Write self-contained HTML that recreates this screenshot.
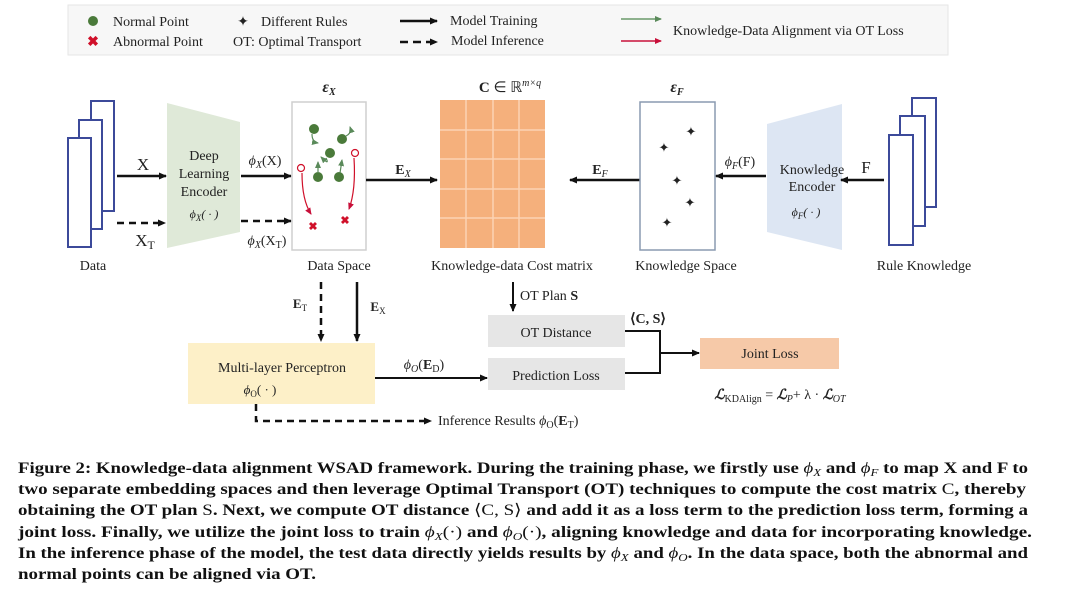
<!DOCTYPE html>
<html><head><meta charset="utf-8"><style>
html,body{margin:0;padding:0;background:#fff;}
svg{display:block;}
text{font-family:"Liberation Serif",serif;fill:#222;}
.cap{font-weight:bold;font-size:16px;fill:#111;}
</style></head><body>
<svg width="1080" height="598" viewBox="0 0 1080 598" xmlns="http://www.w3.org/2000/svg">
<defs>
<marker id="ab" markerWidth="8" markerHeight="8" refX="7" refY="4" orient="auto" markerUnits="userSpaceOnUse"><path d="M0,0.5 L8,4 L0,7.5 Z" fill="#111"/></marker>
<marker id="ag" markerWidth="7" markerHeight="7" refX="6" refY="3.5" orient="auto" markerUnits="userSpaceOnUse"><path d="M0,0.5 L7,3.5 L0,6.5 Z" fill="#5a8a5a"/></marker>
<marker id="ar" markerWidth="7" markerHeight="7" refX="6" refY="3.5" orient="auto" markerUnits="userSpaceOnUse"><path d="M0,0.5 L7,3.5 L0,6.5 Z" fill="#c8103a"/></marker>
</defs>
<!-- legend -->
<rect x="68" y="5" width="880" height="50" fill="#f7f7f7" stroke="#e6e6e6"/>
<circle cx="93" cy="21" r="5" fill="#4a7a3a"/>
<text x="113" y="26" font-size="14">Normal Point</text>
<text x="93" y="46" font-size="14" fill="#d0102a" text-anchor="middle" style="fill:#d0102a;font-weight:bold">✖</text>
<text x="113" y="46" font-size="14">Abnormal Point</text>
<text x="243" y="26" font-size="14" text-anchor="middle">✦</text>
<text x="261" y="26" font-size="14">Different Rules</text>
<text x="233" y="46" font-size="14">OT: Optimal Transport</text>
<line x1="400" y1="21" x2="437" y2="21" stroke="#111" stroke-width="2.5" marker-end="url(#ab)"/>
<text x="450" y="25" font-size="14">Model Training</text>
<line x1="400" y1="42" x2="437" y2="42" stroke="#111" stroke-width="2.5" stroke-dasharray="8,5" marker-end="url(#ab)"/>
<text x="451" y="45" font-size="14">Model Inference</text>
<line x1="621" y1="19" x2="661" y2="19" stroke="#6a9a6a" stroke-width="1.5" marker-end="url(#ag)"/>
<line x1="621" y1="41" x2="661" y2="41" stroke="#c8103a" stroke-width="1.5" marker-end="url(#ar)"/>
<text x="673" y="35" font-size="14">Knowledge-Data Alignment via OT Loss</text>

<!-- data stack -->
<g fill="#fff" stroke="#3c4a9a" stroke-width="2">
<rect x="91" y="101" width="23" height="110"/>
<rect x="79" y="120" width="23" height="109"/>
<rect x="68" y="138" width="23" height="109"/>
<rect x="912" y="98" width="24" height="109"/>
<rect x="900" y="116" width="25" height="110"/>
<rect x="889" y="135" width="24" height="110"/>
</g>
<text x="93" y="270" font-size="14" text-anchor="middle">Data</text>
<text x="924" y="270" font-size="14" text-anchor="middle">Rule Knowledge</text>

<!-- encoder green -->
<polygon points="167,103 240,122 240,232 167,248" fill="#dfe9d8"/>
<text x="204" y="160" font-size="14" text-anchor="middle">Deep</text>
<text x="204" y="178" font-size="14" text-anchor="middle">Learning</text>
<text x="204" y="196" font-size="14" text-anchor="middle">Encoder</text>
<text x="204" y="218" font-size="12" text-anchor="middle" font-style="italic">ϕ<tspan font-size="9" dy="3">X</tspan><tspan dy="-3">( · )</tspan></text>

<line x1="117" y1="176" x2="166" y2="176" stroke="#111" stroke-width="2.5" marker-end="url(#ab)"/>
<text x="143" y="170" font-size="17" text-anchor="middle">X</text>
<line x1="117" y1="223" x2="165" y2="223" stroke="#111" stroke-width="2.5" stroke-dasharray="7,5" marker-end="url(#ab)"/>
<text x="145" y="246" font-size="17" text-anchor="middle">X<tspan font-size="12" dy="3">T</tspan></text>

<line x1="241" y1="176" x2="291" y2="176" stroke="#111" stroke-width="2.5" marker-end="url(#ab)"/>
<text x="265" y="165" font-size="14" text-anchor="middle"><tspan font-style="italic">ϕ</tspan><tspan font-size="10" dy="3" font-style="italic">X</tspan><tspan dy="-3">(X)</tspan></text>
<line x1="241" y1="221" x2="291" y2="221" stroke="#111" stroke-width="2.5" stroke-dasharray="7,5" marker-end="url(#ab)"/>
<text x="267" y="245" font-size="14" text-anchor="middle"><tspan font-style="italic">ϕ</tspan><tspan font-size="10" dy="3" font-style="italic">X</tspan><tspan dy="-3">(X</tspan><tspan font-size="10" dy="3">T</tspan><tspan dy="-3">)</tspan></text>

<!-- data space -->
<rect x="292" y="102" width="74" height="148" fill="#fff" stroke="#cfcfcf" stroke-width="1.5"/>
<text x="329" y="92" font-size="16" font-weight="bold" font-style="italic" text-anchor="middle">ε<tspan font-size="10" dy="3">X</tspan></text>
<text x="339" y="270" font-size="14" text-anchor="middle">Data Space</text>
<g fill="#4a7a3a">
<circle cx="314" cy="129" r="5"/><circle cx="342" cy="139" r="5"/><circle cx="330" cy="153" r="5"/><circle cx="318" cy="177" r="5"/><circle cx="339" cy="177" r="5"/>
</g>
<g stroke="#5a8a5a" stroke-width="1.2" fill="none">
<path d="M312,134 Q312,142 318,143" marker-end="url(#ag)"/>
<path d="M346,136 Q352,133 350,127" marker-end="url(#ag)"/>
<path d="M318,173 L318,162" marker-end="url(#ag)"/>
<path d="M340,173 L342,160" marker-end="url(#ag)"/>
<path d="M326,158 Q330,166 321,157" marker-end="url(#ag)"/>
</g>
<g stroke="#d0102a" stroke-width="1.2" fill="none">
<circle cx="301" cy="168" r="3.5"/><circle cx="355" cy="153" r="3.5"/>
<path d="M302,173 Q302,200 311,214" marker-end="url(#ar)"/>
<path d="M354,158 Q356,190 349,209" marker-end="url(#ar)"/>
</g>
<text x="313" y="230" font-size="11" text-anchor="middle" style="fill:#d0102a;font-weight:bold">✖</text>
<text x="345" y="224" font-size="11" text-anchor="middle" style="fill:#d0102a;font-weight:bold">✖</text>

<line x1="366" y1="180" x2="437" y2="180" stroke="#111" stroke-width="2.5" marker-end="url(#ab)"/>
<text x="403" y="174" font-size="14" font-weight="bold" text-anchor="middle">E<tspan font-size="10" dy="3" font-style="italic" font-weight="normal">X</tspan></text>

<!-- cost matrix -->
<rect x="440" y="100" width="105" height="148" fill="#f5b07c"/>
<g stroke="#fbd3b3" stroke-width="1.5">
<line x1="466" y1="100" x2="466" y2="248"/><line x1="493" y1="100" x2="493" y2="248"/><line x1="519" y1="100" x2="519" y2="248"/>
<line x1="440" y1="130" x2="545" y2="130"/><line x1="440" y1="159" x2="545" y2="159"/><line x1="440" y1="189" x2="545" y2="189"/><line x1="440" y1="218" x2="545" y2="218"/>
</g>
<text x="510" y="92" font-size="15" text-anchor="middle"><tspan font-weight="bold">C</tspan> ∈ ℝ<tspan font-size="10" dy="-6" font-style="italic">m×q</tspan></text>
<text x="512" y="270" font-size="14" text-anchor="middle">Knowledge-data Cost matrix</text>

<line x1="640" y1="180" x2="570" y2="180" stroke="#111" stroke-width="2.5" marker-end="url(#ab)"/>
<text x="600" y="174" font-size="14" font-weight="bold" text-anchor="middle">E<tspan font-size="10" dy="3" font-style="italic" font-weight="normal">F</tspan></text>

<!-- knowledge space -->
<rect x="640" y="102" width="75" height="148" fill="#fff" stroke="#8a9ab0" stroke-width="1.5"/>
<text x="677" y="92" font-size="16" font-weight="bold" font-style="italic" text-anchor="middle">ε<tspan font-size="10" dy="3">F</tspan></text>
<text x="686" y="270" font-size="14" text-anchor="middle">Knowledge Space</text>
<g font-size="13" text-anchor="middle">
<text x="691" y="136">✦</text><text x="664" y="152">✦</text><text x="677" y="185">✦</text><text x="690" y="207">✦</text><text x="667" y="227">✦</text>
</g>

<line x1="766" y1="176" x2="716" y2="176" stroke="#111" stroke-width="2.5" marker-end="url(#ab)"/>
<text x="740" y="166" font-size="14" text-anchor="middle"><tspan font-style="italic">ϕ</tspan><tspan font-size="10" dy="3" font-style="italic">F</tspan><tspan dy="-3">(F)</tspan></text>

<polygon points="767,124 842,104 842,250 767,232" fill="#dde6f3"/>
<text x="812" y="174" font-size="14" text-anchor="middle">Knowledge</text>
<text x="812" y="191" font-size="14" text-anchor="middle">Encoder</text>
<text x="806" y="216" font-size="12" text-anchor="middle" font-style="italic">ϕ<tspan font-size="9" dy="3">F</tspan><tspan dy="-3">( · )</tspan></text>

<line x1="884" y1="180" x2="841" y2="180" stroke="#111" stroke-width="2.5" marker-end="url(#ab)"/>
<text x="866" y="173" font-size="17" text-anchor="middle">F</text>

<!-- bottom -->
<line x1="321" y1="282" x2="321" y2="341" stroke="#111" stroke-width="2.5" stroke-dasharray="7,5" marker-end="url(#ab)"/>
<line x1="357" y1="282" x2="357" y2="341" stroke="#111" stroke-width="2.5" marker-end="url(#ab)"/>
<text x="300" y="308" font-size="13" font-weight="bold" text-anchor="middle">E<tspan font-size="9" dy="3" font-weight="normal">T</tspan></text>
<text x="378" y="311" font-size="13" font-weight="bold" text-anchor="middle">E<tspan font-size="9" dy="3" font-weight="normal">X</tspan></text>

<rect x="188" y="343" width="187" height="61" fill="#fdf0c8"/>
<text x="282" y="372" font-size="14" text-anchor="middle">Multi-layer Perceptron</text>
<text x="260" y="394" font-size="13" text-anchor="middle"><tspan font-style="italic">ϕ</tspan><tspan font-size="9" dy="3">O</tspan><tspan dy="-3">( · )</tspan></text>

<path d="M256,404 L256,421 L431,421" fill="none" stroke="#111" stroke-width="2.5" stroke-dasharray="7,5" marker-end="url(#ab)"/>
<text x="438" y="425" font-size="14">Inference Results <tspan font-style="italic">ϕ</tspan><tspan font-size="10" dy="3">O</tspan><tspan dy="-3">(</tspan><tspan font-weight="bold">E</tspan><tspan font-size="10" dy="3">T</tspan><tspan dy="-3">)</tspan></text>

<line x1="375" y1="378" x2="487" y2="378" stroke="#111" stroke-width="2" marker-end="url(#ab)"/>
<text x="424" y="369" font-size="14" text-anchor="middle"><tspan font-style="italic">ϕ</tspan><tspan font-size="10" dy="3" font-style="italic">O</tspan><tspan dy="-3">(</tspan><tspan font-weight="bold">E</tspan><tspan font-size="10" dy="3">D</tspan><tspan dy="-3">)</tspan></text>

<line x1="513" y1="282" x2="513" y2="311" stroke="#111" stroke-width="2" marker-end="url(#ab)"/>
<text x="520" y="300" font-size="14">OT Plan <tspan font-weight="bold">S</tspan></text>

<rect x="488" y="315" width="137" height="32" fill="#e6e6e6"/>
<text x="556" y="337" font-size="14" text-anchor="middle">OT Distance</text>
<rect x="488" y="358" width="137" height="32" fill="#e6e6e6"/>
<text x="556" y="380" font-size="14" text-anchor="middle">Prediction Loss</text>
<text x="648" y="323" font-size="14" font-weight="bold" text-anchor="middle">⟨C, S⟩</text>
<path d="M625,331 L660,331 L660,373 L625,373" fill="none" stroke="#111" stroke-width="2"/>
<line x1="660" y1="353" x2="699" y2="353" stroke="#111" stroke-width="2" marker-end="url(#ab)"/>
<rect x="700" y="338" width="139" height="31" fill="#f6c9a8"/>
<text x="770" y="358" font-size="14" text-anchor="middle">Joint Loss</text>
<text x="780" y="399" font-size="14" text-anchor="middle"><tspan font-weight="bold" font-style="italic">ℒ</tspan><tspan font-size="10" dy="3">KDAlign</tspan><tspan dy="-3"> = </tspan><tspan font-weight="bold" font-style="italic">ℒ</tspan><tspan font-size="10" dy="3" font-style="italic">P</tspan><tspan dy="-3">+ λ · </tspan><tspan font-weight="bold" font-style="italic">ℒ</tspan><tspan font-size="10" dy="3" font-style="italic">OT</tspan></text>

<!-- caption -->
<text class="cap" x="18" y="473" textLength="1010" lengthAdjust="spacingAndGlyphs">Figure 2: Knowledge-data alignment WSAD framework. During the training phase, we firstly use <tspan font-style="italic" font-weight="normal">ϕ<tspan font-size="11" dy="3">X</tspan></tspan><tspan dy="-3"> and </tspan><tspan font-style="italic" font-weight="normal">ϕ<tspan font-size="11" dy="3">F</tspan></tspan><tspan dy="-3"> to map X and F to</tspan></text>
<text class="cap" x="18" y="494" textLength="1008" lengthAdjust="spacingAndGlyphs">two separate embedding spaces and then leverage Optimal Transport (OT) techniques to compute the cost matrix <tspan font-weight="normal">C</tspan>, thereby</text>
<text class="cap" x="18" y="515" textLength="1010" lengthAdjust="spacingAndGlyphs">obtaining the OT plan <tspan font-weight="normal">S</tspan>. Next, we compute OT distance <tspan font-weight="normal">⟨C, S⟩</tspan> and add it as a loss term to the prediction loss term, forming a</text>
<text class="cap" x="18" y="537" textLength="1014" lengthAdjust="spacingAndGlyphs">joint loss. Finally, we utilize the joint loss to train <tspan font-weight="normal" font-style="italic">ϕ<tspan font-size="11" dy="3">X</tspan></tspan><tspan dy="-3" font-weight="normal">(·)</tspan> and <tspan font-weight="normal" font-style="italic">ϕ<tspan font-size="11" dy="3">O</tspan></tspan><tspan dy="-3" font-weight="normal">(·)</tspan>, aligning knowledge and data for incorporating knowledge.</text>
<text class="cap" x="18" y="558" textLength="1010" lengthAdjust="spacingAndGlyphs">In the inference phase of the model, the test data directly yields results by <tspan font-weight="normal" font-style="italic">ϕ<tspan font-size="11" dy="3">X</tspan></tspan><tspan dy="-3"> and </tspan><tspan font-weight="normal" font-style="italic">ϕ<tspan font-size="11" dy="3">O</tspan></tspan><tspan dy="-3">. In the data space, both the abnormal and</tspan></text>
<text class="cap" x="18" y="579" textLength="298" lengthAdjust="spacingAndGlyphs">normal points can be aligned via OT.</text>
</svg>
</body></html>
